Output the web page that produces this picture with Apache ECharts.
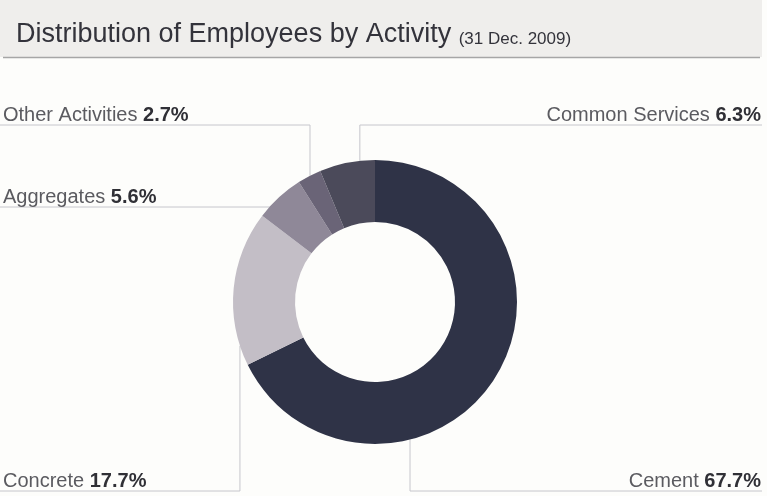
<!DOCTYPE html>
<html>
<head>
<meta charset="utf-8">
<script src="https://cdn.jsdelivr.net/npm/echarts@6/dist/echarts.min.js"></script>
<style>
  html, body { margin: 0; padding: 0; background: #fdfdfb; }
  #chart { width: 767px; height: 496px; }
</style>
</head>
<body>
<div id="chart"></div>
<script>
// Share of employees by activity, in per cent
const categories = ['Cement', 'Concrete', 'Aggregates', 'Other Activities', 'Common Services'];
const shares = [67.7, 17.7, 5.6, 2.7, 6.3];
const sliceColors = ['#2f3347', '#c3bec6', '#8f8898', '#6a6477', '#4b4a5a'];

// Callout layout: which side each label sits on, the height of its rule,
// and where along its slice the leader line leaves the ring.
const calloutSide = ['right', 'left', 'left', 'left', 'right'];
const calloutRuleY = [491, 491, 207, 125, 125];
const calloutAnchor = [0.68, 0.13, 0.23, 0.53, 0.73];

const W = 767, H = 496;
const CX = 375, CY = 302, R_IN = 80, R_OUT = 142;

const total = shares.reduce((a, b) => a + b, 0);
const startShare = [];
shares.reduce((acc, v, i) => { startShare[i] = acc; return acc + v; }, 0);

const chart = echarts.init(document.getElementById('chart'), null, { renderer: 'canvas' });

chart.setOption({
  backgroundColor: '#fdfdfb',
  animation: false,
  graphic: [
    { type: 'rect', shape: { x: 0, y: 0, width: 762, height: 57 }, style: { fill: '#efeeec' }, z: 0 },
    { type: 'line', shape: { x1: 3, y1: 57.5, x2: 760, y2: 57.5 }, style: { stroke: '#a6a6a6', lineWidth: 1.5 }, z: 1 }
  ],
  title: {
    text: '{a|Distribution of Employees by Activity }{b|(31 Dec. 2009)}',
    left: 11,
    top: 13,
    textStyle: {
      fontWeight: 'normal',
      rich: {
        a: { fontFamily: 'Liberation Sans', fontSize: 27, fontWeight: 'normal', color: '#33333b', verticalAlign: 'bottom', lineHeight: 30 },
        b: { fontFamily: 'Liberation Sans Narrow, Liberation Sans', fontSize: 17, fontWeight: 'normal', color: '#33333b', verticalAlign: 'bottom', lineHeight: 26 }
      }
    }
  },
  series: [{
    type: 'pie',
    center: [CX, CY],
    radius: [R_IN, R_OUT],
    startAngle: 90,
    clockwise: true,
    avoidLabelOverlap: false,
    data: categories.map((name, i) => ({
      name,
      value: shares[i],
      itemStyle: { color: sliceColors[i] }
    })),
    itemStyle: { borderWidth: 0 },
    emphasis: { disabled: true },
    label: {
      show: true,
      position: 'outer',
      formatter: p => `{n|${p.name} }{v|${p.value.toFixed(1)}%}`,
      rich: {
        n: { fontFamily: 'Liberation Sans', fontSize: 20, color: '#5b5b60', lineHeight: 24 },
        v: { fontFamily: 'Liberation Sans', fontSize: 20, color: '#303036', fontWeight: 'bold', lineHeight: 24 }
      }
    },
    labelLine: {
      show: true,
      lineStyle: { color: '#c6c6cc', width: 1 }
    },
    labelLayout: function (params) {
      const i = params.dataIndex;
      const deg = (startShare[i] + calloutAnchor[i] * shares[i]) / total * 360;
      const rad = deg * Math.PI / 180;
      const px = CX + R_OUT * Math.sin(rad);
      const py = CY - R_OUT * Math.cos(rad);
      const ry = calloutRuleY[i];
      const left = calloutSide[i] === 'left';
      return {
        x: left ? 3 : 761,
        y: ry + 2,
        align: left ? 'left' : 'right',
        verticalAlign: 'bottom',
        labelLinePoints: [[px, py], [px, ry], [left ? 0 : 762, ry]]
      };
    }
  }]
});
</script>
</body>
</html>
